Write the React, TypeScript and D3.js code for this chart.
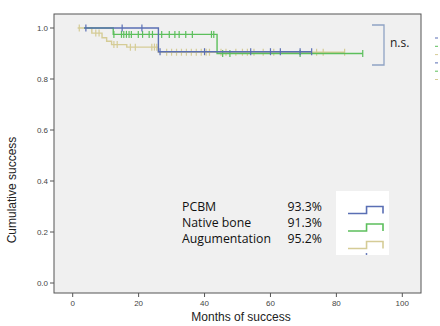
import React from 'react'
import * as d3 from 'd3'

// Kaplan-Meier curves: [month, survival after event]
const pcbmStart = 3.5
const pcbmEnd = 72.5
const pcbmEvents = [[26, 0.907]]
const pcbmCensored = [4, 15, 21, 26.5, 40, 54, 60, 63, 69, 72.5]

const nativeStart = 3.5
const nativeEnd = 88
const nativeEvents = [[12.3, 0.975], [43.8, 0.9]]
const nativeCensored = [12.5, 14.8, 15.5, 16.3, 17.1, 17.8, 19.9, 21.2, 23.2, 24.2, 27, 29.3, 31, 32.3, 34.3, 36.3, 42.1, 42.8, 45.5, 47.7, 69, 88]

const augStart = 1.5
const augEnd = 82.5
const augEvents = [[5.8, 0.98], [8.9, 0.962], [10.3, 0.948], [11.8, 0.935], [16.4, 0.925], [26, 0.905]]
const augCensored = [2, 7, 8, 12.5, 13.5, 17.5, 19, 24, 24.8, 25.5, 28.5, 30, 31.5, 33, 34.5, 36, 37.5, 39, 40.5, 41.5, 45, 46.5, 49.5, 51.5, 53, 55, 57.8, 61, 74, 76, 82.5]

const groupNames = ['PCBM', 'Native bone', 'Augumentation']
const groupPcts = ['93.3%', '91.3%', '95.2%']
const colors = ['#5a6fb4', '#5cbf5c', '#d5cc96']

const xTicks = [0, 20, 40, 60, 80, 100]
const yTicks = [0, 0.2, 0.4, 0.6, 0.8, 1.0]

const curves = [
  { start: pcbmStart, end: pcbmEnd, events: pcbmEvents, censored: pcbmCensored },
  { start: nativeStart, end: nativeEnd, events: nativeEvents, censored: nativeCensored },
  { start: augStart, end: augEnd, events: augEvents, censored: augCensored },
]

const valueAt = (events: number[][], t: number) => {
  let v = 1
  events.forEach(e => { if (e[0] <= t) v = e[1] })
  return v
}

export default function App() {
  const x = d3.scaleLinear().domain([0, 100]).range([72.7, 402.3])
  const y = d3.scaleLinear().domain([0, 1]).range([283, 28])
  const left = 54, top = 14, right = 421, bottom = 293
  const axisFont = 'Arial, "Liberation Sans", sans-serif'
  const legFont = '"Open Sans", sans-serif'

  const line = d3.line<[number, number]>()
    .x(d => x(d[0]))
    .y(d => y(d[1]))
    .curve(d3.curveStepAfter)

  // legend mini step shape
  const legX = d3.scaleLinear().domain([0, 1]).range([348, 383])

  return (
    <div style={{ position: 'absolute', left: 0, top: 0 }}>
      <svg width={440} height={326} style={{ display: 'block', background: '#fff' }}>
        <rect x={left} y={top} width={right - left} height={bottom - top} fill="#f0f0f0" stroke="#555" strokeWidth={1} />

        {/* y axis */}
        {yTicks.map(t => (
          <g key={'y' + t}>
            <line x1={left - 4} x2={left} y1={y(t)} y2={y(t)} stroke="#555" />
            <text x={left - 6} y={y(t) + 3} textAnchor="end" fontSize={8} fill="#444" fontFamily={axisFont}>{d3.format('.1f')(t)}</text>
          </g>
        ))}
        <text transform="translate(16,190) rotate(-90)" textAnchor="middle" fontSize={12} fill="#222" fontFamily={axisFont}>Cumulative success</text>

        {/* x axis */}
        {xTicks.map(t => (
          <g key={'x' + t}>
            <line x1={x(t)} x2={x(t)} y1={bottom} y2={bottom + 4} stroke="#555" />
            <text x={x(t)} y={306} textAnchor="middle" fontSize={8} fill="#444" fontFamily={axisFont}>{t}</text>
          </g>
        ))}
        <text x={241} y={321} textAnchor="middle" fontSize={12} fill="#222" fontFamily={axisFont}>Months of success</text>

        {/* curves, drawn back to front */}
        {[2, 1, 0].map(i => {
          const c = curves[i]
          const pts: [number, number][] = [[c.start, 1]]
          c.events.forEach(e => pts.push([e[0], e[1]]))
          pts.push([c.end, valueAt(c.events, c.end)])
          return (
            <g key={'c' + i}>
              <path d={line(pts) || ''} fill="none" stroke={colors[i]} strokeWidth={1.4} />
              {c.censored.map((t, j) => (
                <line key={j} x1={x(t)} x2={x(t)} y1={y(valueAt(c.events, t)) - 3.5} y2={y(valueAt(c.events, t)) + 3.5} stroke={colors[i]} strokeWidth={1.2} />
              ))}
            </g>
          )
        })}

        {/* significance bracket */}
        <path d="M372,25H384V65H372" fill="none" stroke="#8fa3c4" strokeWidth={1.3} />
        <text x={390} y={47} fontSize={12} fill="#222" fontFamily={legFont}>n.s.</text>

        {/* legend remnants to the right of the frame */}
        {[0, 1, 2, 0, 1, 2].map((ci, k) => (
          <line key={'r' + k} x1={435} x2={438} y1={38 + k * 8.3} y2={38 + k * 8.3} stroke={colors[ci]} strokeWidth={1} />
        ))}

        {/* inset legend */}
        {groupNames.map((n, i) => (
          <g key={'l' + i}>
            <text x={182} y={211 + i * 16} fontSize={12.3} fill="#111" fontFamily={legFont}>{n}</text>
            <text x={322} y={211 + i * 16} textAnchor="end" fontSize={12.3} fill="#111" fontFamily={legFont}>{groupPcts[i]}</text>
          </g>
        ))}
        <rect x={336} y={191} width={53} height={64} fill="#fff" />
        {groupNames.map((n, i) => {
          const lo = 213.5 + i * 17.5, hi = lo - 7
          return (
            <path key={'s' + i} d={`M${legX(0)},${lo}H${legX(0.53)}V${hi}H${legX(1)}V${lo}`} fill="none" stroke={colors[i]} strokeWidth={1.6} />
          )
        })}
        <circle cx={366.5} cy={254} r={0.9} fill={colors[0]} />
      </svg>
    </div>
  )
}
